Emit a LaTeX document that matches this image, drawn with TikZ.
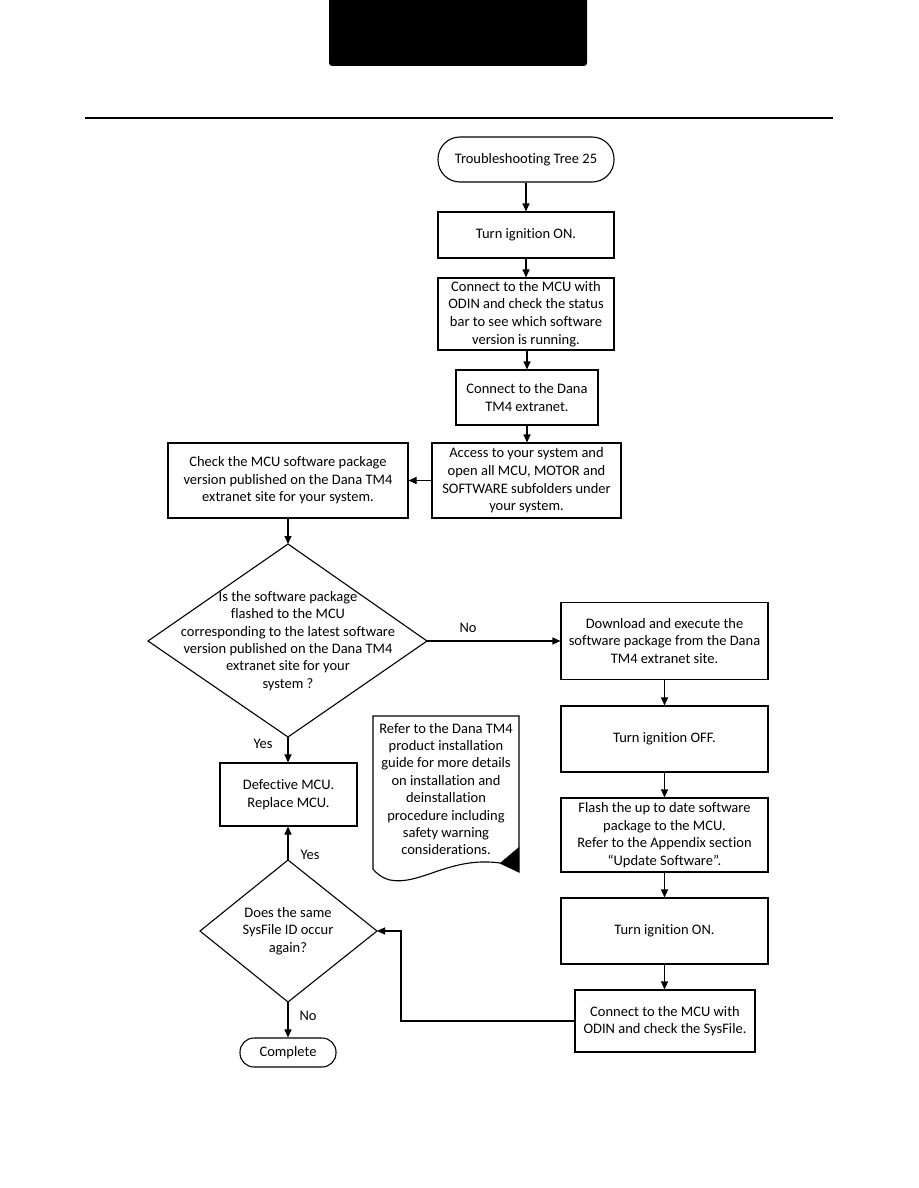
\documentclass[tikz,border=0pt]{standalone}
\usepackage{fontspec}
\setmainfont{Carlito}[Ligatures=NoCommon]
\usetikzlibrary{arrows.meta}
\tikzset{
  base/.style={draw=black, line width=1.1pt, align=center, inner sep=2pt,
    font=\fontsize{14.5}{17.6}\selectfont},
  box/.style={base, rectangle},
  term/.style={base, rectangle, rounded corners=14pt},
  arr/.style={line width=1.1pt, -{Triangle[length=8pt,width=7pt]}},
  lbl/.style={font=\fontsize{14.5}{16}\selectfont, inner sep=0pt},
  dtext/.style={align=center, inner sep=0pt, font=\fontsize{14.5}{17.4}\selectfont}
}
\begin{document}
\begin{tikzpicture}[x=1pt,y=-1pt]
\useasboundingbox (0,0) rectangle (918,1188);
% header
\fill[black, rounded corners=3pt] (329,-10) rectangle (587,66);
\draw[line width=2pt] (85,118) -- (833,118);

\node[term, minimum width=176pt, minimum height=45pt, rounded corners=22pt] (start) at (526,159.5) {Troubleshooting Tree 25};
\node[box, minimum width=176pt, minimum height=46pt] (on1) at (526,235) {Turn ignition ON.};
\node[box, minimum width=176pt, minimum height=72pt] (conn1) at (526,314) {Connect to the MCU with\\ODIN and check the status\\bar to see which software\\version is running.};
\node[box, minimum width=142pt, minimum height=55pt] (dana) at (527,397.5) {Connect to the Dana\\TM4 extranet.};
\node[box, minimum width=189pt, minimum height=75pt] (access) at (526.5,480.5) {Access to your system and\\open all MCU, MOTOR and\\SOFTWARE subfolders under\\your system.};
\node[box, minimum width=240pt, minimum height=75pt] (check) at (288,480.5) {Check the MCU software package\\version published on the Dana TM4\\extranet site for your system.};

% decision 1
\coordinate (d1t) at (288,544);
\coordinate (d1l) at (148,641);
\coordinate (d1r) at (427,641);
\coordinate (d1b) at (288,737);
\draw[line width=1.1pt] (d1t) -- (d1r) -- (d1b) -- (d1l) -- cycle;
\node[dtext] (d1) at (288,641) {Is the software package\\flashed to the MCU\\corresponding to the latest software\\version published on the Dana TM4\\extranet site for your\\system ?};

\node[box, minimum width=207pt, minimum height=77pt] (dl) at (664.5,641) {Download and execute the\\software package from the Dana\\TM4 extranet site.};
\node[box, minimum width=207pt, minimum height=66pt] (off) at (664.5,739) {Turn ignition OFF.};
\node[box, minimum width=207pt, minimum height=74pt] (flash) at (664.5,835) {Flash the up to date software\\package to the MCU.\\Refer to the Appendix section\\“Update Software”.};
\node[box, minimum width=207pt, minimum height=66pt] (on2) at (664.5,931) {Turn ignition ON.};
\node[box, minimum width=180pt, minimum height=62pt] (sys) at (665,1021) {Connect to the MCU with\\ODIN and check the SysFile.};

\node[box, minimum width=137pt, minimum height=63pt] (def) at (288.5,794.5) {Defective MCU.\\Replace MCU.};

% decision 2
\coordinate (d2t) at (288,860);
\coordinate (d2l) at (200,931);
\coordinate (d2r) at (377,931);
\coordinate (d2b) at (288,1002);
\draw[line width=1.1pt] (d2t) -- (d2r) -- (d2b) -- (d2l) -- cycle;
\node[dtext] (d2) at (288,931) {Does the same\\SysFile ID occur\\again?};

\node[term, minimum width=96pt, minimum height=29pt] (done) at (288,1052.5) {Complete};

% note
\draw[line width=1.1pt] (373,716) -- (519,716) -- (519,872) -- (500,863)
  .. controls (450,856) and (420,886) .. (390,880)
  .. controls (382,878) and (376,873) .. (373,869) -- cycle;
\fill[black] (500,863) -- (519,847) -- (519,872) -- cycle;
\node[dtext] (note) at (446,789) {Refer to the Dana TM4\\product installation\\guide for more details\\on installation and\\deinstallation\\procedure including\\safety warning\\considerations.};

% connectors
\draw[arr] (start) -- (on1);
\draw[arr] (on1) -- (conn1);
\draw[arr] (conn1.south -| dana.north) -- (dana);
\draw[arr] (dana.south) -- (dana.south |- access.north);
\draw[arr] (access) -- (check);
\draw[arr] (check.south) -- (d1t);
\draw[arr] (d1r) -- (dl.west);
\draw[arr] (dl) -- (off);
\draw[arr] (off) -- (flash);
\draw[arr] (flash) -- (on2);
\draw[arr] (on2.south) -- (on2.south |- sys.north);
\draw[arr] (d1b) -- (d1b |- def.north);
\draw[arr] (d2t) -- (d2t |- def.south);
\draw[arr] (d2b) -- (done);
\draw[arr] (sys.west) -- (401,1021) -- (401,931) -- (d2r);

% labels
\node[lbl] (no1) at (468,628) {No};
\node[lbl] (yes1) at (263,744) {Yes};
\node[lbl] (yes2) at (310,855) {Yes};
\node[lbl] (no2) at (308,1016) {No};
\end{tikzpicture}
\end{document}
